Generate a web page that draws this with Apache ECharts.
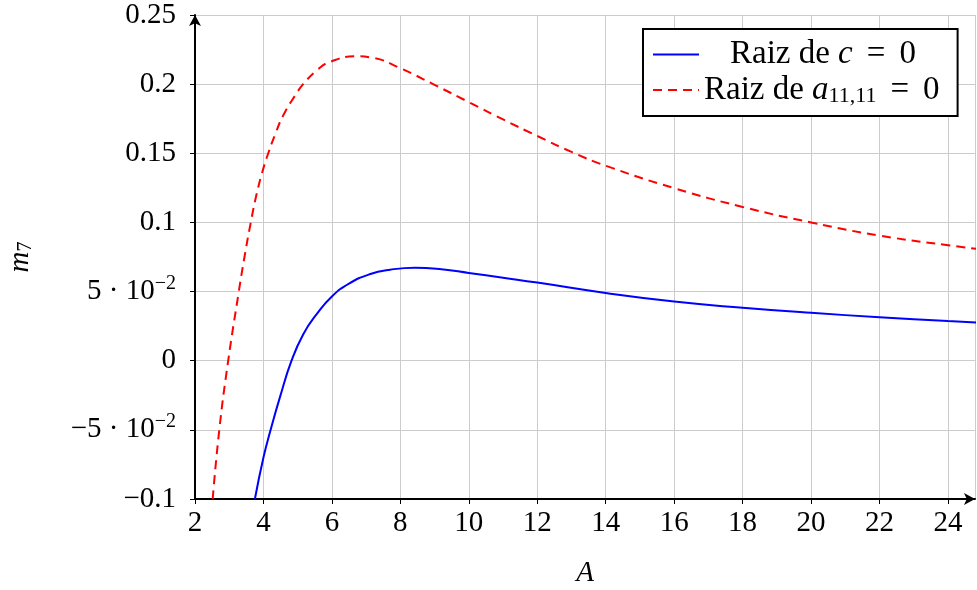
<!DOCTYPE html>
<html>
<head>
<meta charset="utf-8">
<script src="https://cdn.jsdelivr.net/npm/echarts@6/dist/echarts.min.js"></script>
<style>
html,body{margin:0;padding:0;background:#fff;}
#chart{width:977px;height:590px;}
</style>
</head>
<body>
<div id="chart"></div>
<script>
// A values and m7 values
var blueA = [3.75, 4.0, 4.21, 4.48, 4.82, 5.16, 5.55, 6.0, 6.5, 7.1, 7.7, 8.43, 9.2, 10, 11, 12, 14, 16, 18, 20, 22, 24, 24.85];
var blueM = [-0.1, -0.07, -0.05, -0.0265, 0, 0.019, 0.0335, 0.0465, 0.0558, 0.0625, 0.0658, 0.0673, 0.0662, 0.0635, 0.06, 0.0565, 0.049, 0.0428, 0.0383, 0.0346, 0.0315, 0.0287, 0.0276];
var redA = [2.517, 2.71, 2.97, 3.28, 3.43, 3.63, 3.8, 3.99, 4.14, 4.34, 4.58, 4.97, 5.16, 5.55, 5.94, 6.7, 7.2, 8.0, 9.0, 10, 11, 12, 13, 14, 16, 18, 20, 22, 24, 24.85];
var redM = [-0.1, -0.05, 0, 0.05, 0.0728, 0.1, 0.1205, 0.1385, 0.15, 0.1635, 0.1775, 0.1935, 0.2, 0.2098, 0.216, 0.2201, 0.219, 0.2115, 0.1995, 0.187, 0.1745, 0.1625, 0.151, 0.141, 0.1248, 0.1112, 0.1, 0.0905, 0.0835, 0.0808];
var xTicks = [2, 4, 6, 8, 10, 12, 14, 16, 18, 20, 22, 24];
var yTickLabels = {
  '0.25': '{n|0.25}',
  '0.2': '{n|0.2}',
  '0.15': '{n|0.15}',
  '0.1': '{n|0.1}',
  '0.05': '{n|5 · 10}{sup|−2}',
  '0': '{n|0}',
  '-0.05': '{n|−5 · 10}{sup|−2}',
  '-0.1': '{n|−0.1}'
};
var seriesNames = ['Raiz de c = 0', 'Raiz de a11,11 = 0'];

function zip(a, b) { return a.map(function (v, i) { return [v, b[i]]; }); }

var FONT = '"Liberation Serif", "DejaVu Serif", serif';
var FS = 29;
var LFS = 33;

var chart = echarts.init(document.getElementById('chart'), null, {renderer: 'canvas'});
chart.setOption({
  animation: false,
  backgroundColor: '#ffffff',
  grid: {left: 195, right: 2, top: 15, bottom: 91, containLabel: false, outerBoundsMode: 'none'},
  legend: {
    orient: 'vertical',
    left: 643,
    top: 29,
    padding: [9, 18, 9, 9],
    itemWidth: 46,
    itemHeight: 14,
    itemGap: 2,
    backgroundColor: '#ffffff',
    borderColor: '#000000',
    borderWidth: 2,
    borderRadius: 0,
    itemStyle: {opacity: 0, color: 'transparent', borderWidth: 0},
    data: seriesNames,
    formatter: function (name) {
      if (name === seriesNames[0]) return '{sp|}{n|Raiz de }{i|c}{g|}{n|=}{g|}{n|0}';
      return '{n|Raiz de }{i|a}{sub|11,11}{g|}{n|=}{g|}{n|0}';
    },
    textStyle: {
      fontFamily: FONT, fontSize: LFS, color: '#000',
      rich: {
        sp: {width: 26, lineHeight: 35},
        g: {width: 14, lineHeight: 35},
        n: {fontFamily: FONT, fontSize: LFS, lineHeight: 35, color: '#000'},
        i: {fontFamily: FONT, fontSize: LFS, fontStyle: 'italic', lineHeight: 35, color: '#000'},
        sub: {fontFamily: FONT, fontSize: 22, lineHeight: 22, padding: [12, 0, 0, 0], color: '#000'}
      }
    }
  },
  xAxis: {
    type: 'value',
    min: 2,
    max: 24.79,
    interval: 2,
    name: 'A',
    nameLocation: 'middle',
    nameGap: 60,
    nameTextStyle: {fontFamily: FONT, fontSize: FS, fontStyle: 'italic', color: '#000'},
    axisLine: {show: true, onZero: false, symbol: ['none', 'arrow'], symbolSize: [9, 11], lineStyle: {color: '#000', width: 2}},
    axisTick: {show: true, length: 5, lineStyle: {color: '#000', width: 1}},
    axisLabel: {
      showMaxLabel: false,
      margin: 10,
      fontFamily: FONT, fontSize: FS, color: '#000',
      formatter: function (v) { return xTicks.indexOf(v) >= 0 ? String(v) : ''; }
    },
    splitLine: {show: true, lineStyle: {color: '#cccccc', width: 1}}
  },
  yAxis: {
    type: 'value',
    min: -0.1,
    max: 0.25,
    interval: 0.05,
    name: '{i|m}{sub|7}',
    nameLocation: 'middle',
    nameGap: 158,
    nameRotate: 90,
    nameTextStyle: {
      fontFamily: FONT, fontSize: FS, color: '#000',
      rich: {
        i: {fontFamily: FONT, fontSize: FS, fontStyle: 'italic', lineHeight: 34, color: '#000'},
        sub: {fontFamily: FONT, fontSize: 20, lineHeight: 20, padding: [12, 0, 0, 0], color: '#000'}
      }
    },
    axisLine: {show: true, onZero: false, symbol: ['none', 'arrow'], symbolSize: [9, 11], lineStyle: {color: '#000', width: 2}},
    axisTick: {show: true, length: 5, lineStyle: {color: '#000', width: 1}},
    axisLabel: {
      margin: 19,
      fontFamily: FONT, fontSize: FS, color: '#000',
      formatter: function (v) {
        var k = String(Math.round(v * 100) / 100);
        return yTickLabels[k] || k;
      },
      rich: {
        n: {fontFamily: FONT, fontSize: FS, lineHeight: 36, color: '#000'},
        sup: {fontFamily: FONT, fontSize: 20, lineHeight: 20, padding: [0, 0, 16, 0], color: '#000'}
      }
    },
    splitLine: {show: true, lineStyle: {color: '#cccccc', width: 1}}
  },
  series: [
    {
      name: seriesNames[0],
      type: 'line',
      data: zip(blueA, blueM),
      smooth: 0.5,
      showSymbol: false,
      symbol: 'none',
      clip: true,
      color: '#0000ff',
      lineStyle: {color: '#0000ff', width: 2}
    },
    {
      name: seriesNames[1],
      type: 'line',
      data: zip(redA, redM),
      smooth: 0.5,
      showSymbol: false,
      symbol: 'none',
      clip: true,
      color: '#ff0000',
      lineStyle: {color: '#ff0000', width: 2, type: [9, 6]}
    }
  ]
});
</script>
</body>
</html>
